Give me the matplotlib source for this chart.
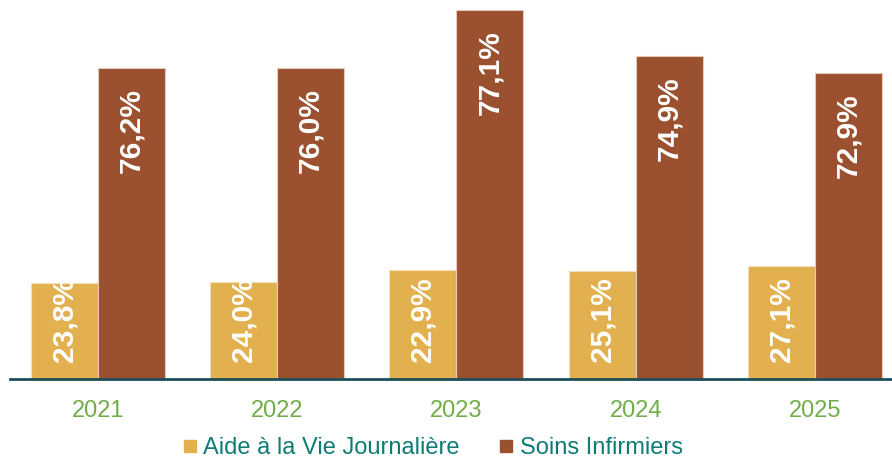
import matplotlib.pyplot as plt
import numpy as np
from matplotlib.lines import Line2D

# data (bar heights, labels as printed)
years = ['2021', '2022', '2023', '2024', '2025']
aide_vals = [96, 97, 109, 108, 113]
soins_vals = [311, 311, 369, 323, 306]
aide_labels = ['23,8%', '24,0%', '22,9%', '25,1%', '27,1%']
soins_labels = ['76,2%', '76,0%', '77,1%', '74,9%', '72,9%']
series_names = ['Aide à la Vie Journalière', 'Soins Infirmiers']

c_aide = '#E3B04F'
c_soins = '#9B5130'
c_year = '#70AD47'
c_legend = '#0E7C74'

plt.rcParams['font.family'] = ['Liberation Sans', 'DejaVu Sans']

fig = plt.figure(figsize=(8.92, 4.61), dpi=100)
ax = fig.add_axes([10 / 892, 1 - 379 / 461, 882 / 892, 369 / 461])

x = np.arange(len(years))
w = 0.374
b1 = ax.bar(x - w / 2, aide_vals, w, color=c_aide, edgecolor='#F3DDBB', linewidth=0.8)
b2 = ax.bar(x + w / 2, soins_vals, w, color=c_soins, edgecolor='#E6C9B8', linewidth=0.8)

for rect, lab in zip(b1, aide_labels):
    ax.annotate(lab, (rect.get_x() + rect.get_width() / 2, 0), xytext=(0, 17),
                textcoords='offset pixels', rotation=90, ha='center', va='bottom',
                color='white', fontsize=21.5, fontweight='bold')
for rect, lab in zip(b2, soins_labels):
    ax.annotate(lab, (rect.get_x() + rect.get_width() / 2, rect.get_height()), xytext=(0, -20),
                textcoords='offset pixels', rotation=90, ha='center', va='top',
                color='white', fontsize=21.5, fontweight='bold')

ax.set_xlim(-0.49, (892 - 98) / 179.25)
ax.set_ylim(0, 369)
ax.set_yticks([])
ax.set_xticks(x)
ax.set_xticklabels(years, color=c_year, fontsize=17)
ax.tick_params(axis='x', length=0, pad=15)
for s in ['top', 'right', 'left']:
    ax.spines[s].set_visible(False)
ax.spines['bottom'].set_color('#1E4D5A')
ax.spines['bottom'].set_linewidth(2)

handles = [Line2D([], [], marker='s', linestyle='none', markersize=9, color=c)
           for c in (c_aide, c_soins)]
leg = fig.legend(handles, series_names, loc='center', bbox_to_anchor=(432 / 892, 1 - 448 / 461),
                 ncol=2, frameon=False, fontsize=17, handletextpad=0.21, columnspacing=1.65,
                 handlelength=0.7)
for t in leg.get_texts():
    t.set_color(c_legend)

fig.savefig('out.png', dpi=100)
